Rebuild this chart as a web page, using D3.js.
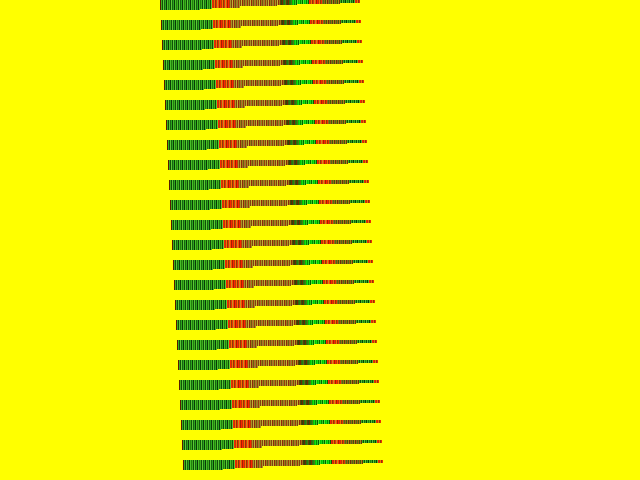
<!DOCTYPE html>
<html>
<head>
<meta charset="utf-8">
<script src="https://cdn.jsdelivr.net/npm/d3@7"></script>
<style>
  html, body { margin: 0; padding: 0; background: #ffff00; }
  svg { display: block; }
</style>
</head>
<body>
<div id="vis"></div>
<script>
const FRAME_WIDTH = 640;
const FRAME_HEIGHT = 480;

// rows of the chart (24 strips)
const rows = d3.range(24);

// height steps along one strip: how many bars, and their height
const stepLengths = [18, 22, 12, 28, 37, 20, 43, 20];
const stepHeights = [10, 9.5, 8.5, 7.5, 6, 5, 4, 2.5];

// colour groups along one strip: how many bars, and which palette
const groupLengths = [1, 51, 18, 50, 12, 17, 13, 18, 15, 5];
const groupNames = ["lead", "green", "red", "olive", "dark", "bright", "red", "dusk", "green", "red"];

const palettes = {
  lead:   ["#5a1a00"],
  green:  ["#3cb01c", "#0e5008", "#5acc34", "#186410", "#2aa81e", "#0a3a06", "#48c028", "#22800e"],
  red:    ["#ff2200", "#b83a08", "#ff6a00", "#8a3a06", "#e83000", "#c89020", "#ff4a00", "#a02000"],
  olive:  ["#a89428", "#7a4410", "#c4b238", "#8c2a08", "#a07a1c", "#6a5a10", "#b8682a", "#8a8a20", "#9a3a0a"],
  dark:   ["#5a3a08", "#2a4a0a", "#6a2a04", "#306a10", "#1e8010", "#4a7a14"],
  bright: ["#00c400", "#14e014", "#008a00", "#32d020", "#006000", "#50e830"],
  dusk:   ["#8a7018", "#4e6a16", "#a06012", "#3a5a0a", "#aa8a1a", "#6a3008"]
};

const N_BARS = d3.sum(stepLengths);

// expand step / group tables into one record per bar
function expand(lengths, values) {
  const out = [];
  lengths.forEach((n, i) => { for (let j = 0; j < n; j++) out.push({v: values[i], j: j}); });
  return out;
}
const heights = expand(stepLengths, stepHeights);
const groups = expand(groupLengths, groupNames);

const bars = heights.map((h, k) => ({
  k: k,
  h: h.v,
  color: palettes[groups[k].v][groups[k].j % palettes[groups[k].v].length]
}));

// scales
const X_SCALE = d3.scaleLinear().domain([0, N_BARS]).range([0, N_BARS]);
const ROW_X = d3.scaleLinear().domain([0, 23]).range([160, 183]);
const ROW_Y = d3.scaleBand().domain(rows).range([0, FRAME_HEIGHT]).paddingInner(0);
const H_SCALE = d3.scaleLinear().domain([0, 10]).range([0, 10]);

const FRAME = d3.select("#vis")
  .append("svg")
    .attr("width", FRAME_WIDTH)
    .attr("height", FRAME_HEIGHT)
    .style("background", "#ffff00");

const strips = FRAME.selectAll("g.strip")
  .data(rows)
  .enter()
  .append("g")
    .attr("class", "strip")
    .attr("transform", (r) => "translate(" + ROW_X(r) + "," + ROW_Y(r) + ")");

strips.selectAll("rect")
  .data(bars)
  .enter()
  .append("rect")
    .attr("x", (d) => X_SCALE(d.k))
    .attr("y", 0)
    .attr("width", 1)
    .attr("height", (d) => H_SCALE(d.h))
    .attr("fill", (d) => d.color)
    .attr("shape-rendering", "crispEdges");
</script>
</body>
</html>
